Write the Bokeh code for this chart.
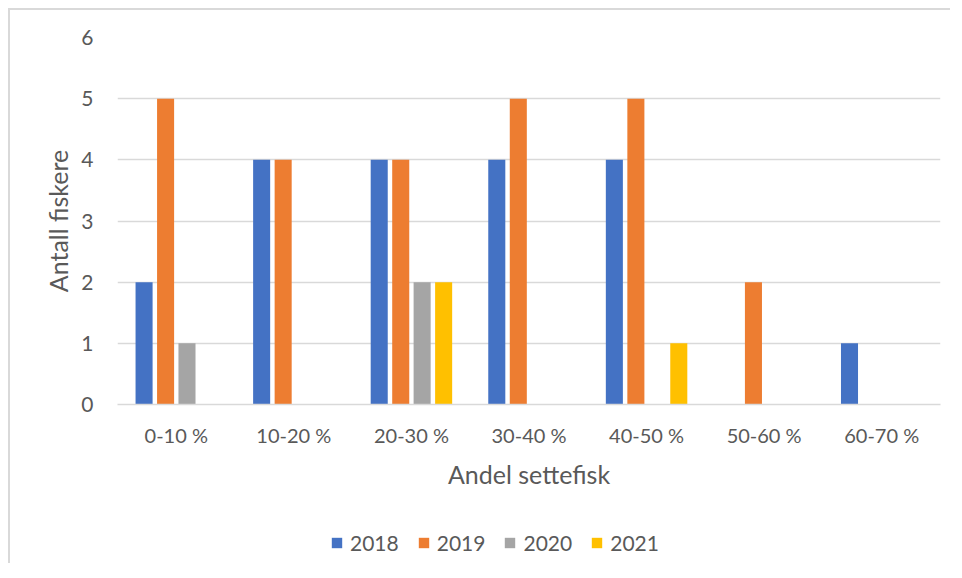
from bokeh.plotting import figure
from bokeh.layouts import column
from bokeh.models import FactorRange, Legend, LegendItem, ColumnDataSource, FixedTicker, Range1d
from bokeh.transform import dodge
from bokeh.embed import file_html
from bokeh.resources import INLINE

categories = ["0-10 %", "10-20 %", "20-30 %", "30-40 %", "40-50 %", "50-60 %", "60-70 %"]
years = ["2018", "2019", "2020", "2021"]
v2018 = [2, 4, 4, 4, 4, 0, 1]
v2019 = [5, 4, 4, 5, 5, 2, 0]
v2020 = [1, 0, 2, 0, 0, 0, 0]
v2021 = [0, 0, 2, 0, 1, 0, 0]
y_ticks = [0, 1, 2, 3, 4, 5, 6]
colors = ["#4472C4", "#ED7D31", "#A5A5A5", "#FFC000"]

FONT = "Lato"
TXT = "#595959"
BORDER = "2px solid #d9d9d9"

source = ColumnDataSource(dict(cat=categories, y2018=v2018, y2019=v2019, y2020=v2020, y2021=v2021))
xr = FactorRange(factors=categories, range_padding=0, factor_padding=0)

p = figure(x_range=xr, y_range=(0, 6), width=942, height=500,
           output_backend="svg", toolbar_location=None,
           min_border_left=107, min_border_right=12, min_border_top=27, min_border_bottom=106,
           margin=(8, 0, 0, 8),
           styles={"border-left": BORDER, "border-top": BORDER})
p.outline_line_color = None

offsets = [-0.274, -0.091, 0.091, 0.274]
cols = ["y2018", "y2019", "y2020", "y2021"]
for col, off, c in zip(cols, offsets, colors):
    p.vbar(x=dodge("cat", off, range=xr), top=col, width=0.145, source=source,
           fill_color=c, line_color=None)

p.yaxis.ticker = FixedTicker(ticks=y_ticks)
p.ygrid.grid_line_color = "#d9d9d9"
p.ygrid.grid_line_width = 1.5
p.xgrid.grid_line_color = None

for ax in (p.xaxis[0], p.yaxis[0]):
    ax.major_tick_line_color = None
    ax.minor_tick_line_color = None
    ax.major_tick_out = 0
    ax.major_tick_in = 0
    ax.minor_tick_out = 0
    ax.major_label_text_font = FONT
    ax.major_label_text_font_size = "20px"
    ax.major_label_text_color = TXT
    ax.axis_label_text_font = FONT
    ax.axis_label_text_font_size = "25px"
    ax.axis_label_text_color = TXT
    ax.axis_label_text_font_style = "normal"

p.yaxis.major_label_text_font_size = "21px"
p.yaxis.axis_line_color = None
p.yaxis.major_label_standoff = 24
p.yaxis.axis_label = "Antall fiskere"
p.yaxis.axis_label_standoff = 5
p.xaxis.axis_line_color = "#d9d9d9"
p.xaxis.axis_line_width = 1.5
p.xaxis.major_label_standoff = 18
p.xaxis.axis_label = "Andel settefisk"
p.xaxis.axis_label_standoff = 9

# legend strip below the chart: its renderers are hidden, only the legend shows
lg = figure(width=942, height=55, x_range=xr, y_range=Range1d(-2, -1),
            output_backend="svg", toolbar_location=None,
            min_border_left=0, min_border_right=0, min_border_top=0, min_border_bottom=0,
            margin=(0, 0, 0, 8), styles={"border-left": BORDER})
lg.outline_line_color = None
lg.axis.visible = False
lg.grid.visible = False
items = []
for yr, col, off, c in zip(years, cols, offsets, colors):
    r = lg.vbar(x=dodge("cat", off, range=xr), top=col, bottom=col, width=0.145, source=source,
                fill_color=c, line_color=None, visible=False)
    items.append(LegendItem(label=yr, renderers=[r]))
legend = Legend(items=items, orientation="horizontal", location=(213, 8),
                glyph_width=13, glyph_height=13, label_standoff=7, spacing=18,
                label_text_font=FONT, label_text_font_size="21px", label_text_color=TXT,
                border_line_color=None, background_fill_alpha=0, padding=0, margin=0,
                inactive_fill_alpha=0)
lg.add_layout(legend, "center")

layout = column(p, lg, spacing=0)
open("out.html", "w").write(file_html(layout, INLINE))
